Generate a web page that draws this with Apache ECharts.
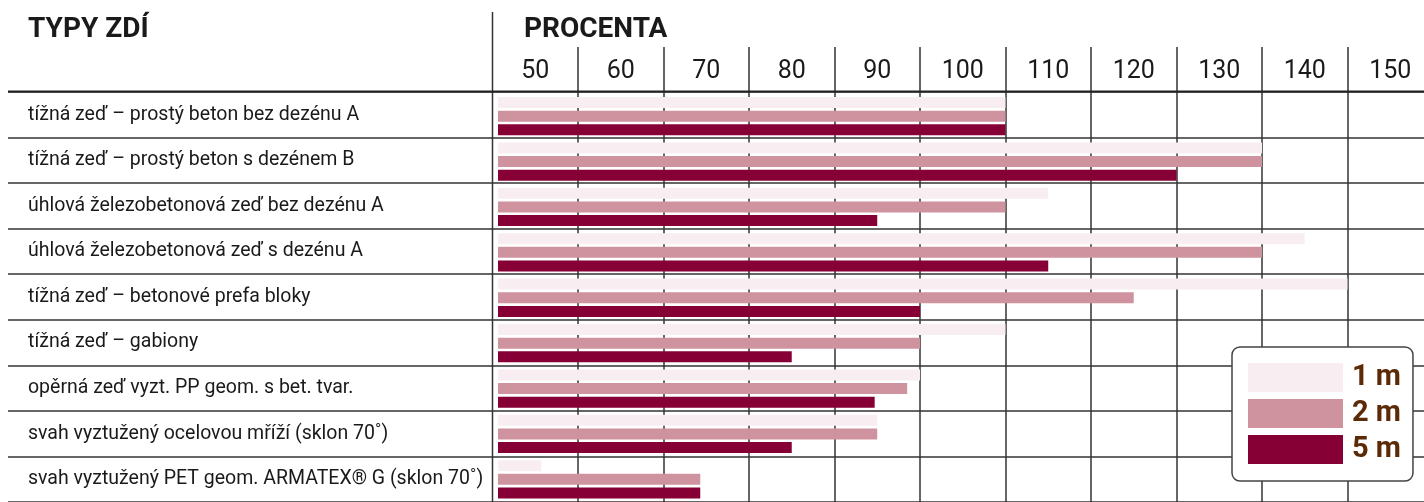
<!DOCTYPE html>
<html>
<head>
<meta charset="utf-8">
<script src="https://cdn.jsdelivr.net/npm/echarts@6/dist/echarts.min.js"></script>
<style>
  html, body { margin: 0; padding: 0; background: #ffffff; }
  #chart { width: 1424px; height: 502px; }
</style>
</head>
<body>
<div id="chart"></div>
<script>
// ---- data ----
const categories = [
  'tížná zeď – prostý beton bez dezénu A',
  'tížná zeď – prostý beton s dezénem B',
  'úhlová železobetonová zeď bez dezénu A',
  'úhlová železobetonová zeď s dezénu A',
  'tížná zeď – betonové prefa bloky',
  'tížná zeď – gabiony',
  'opěrná zeď vyzt. PP geom. s bet. tvar.',
  'svah vyztužený ocelovou mříží (sklon 70˚)',
  'svah vyztužený PET geom. ARMATEX® G (sklon 70˚)'
];
const values1m = [100, 130, 105, 135, 140, 100, 90, 85, 45.7];
const values2m = [100, 130, 100, 130, 115, 90, 88.5, 85, 64.3];
const values5m = [100, 120, 85, 105, 90, 75, 84.7, 75, 64.3];
const seriesNames = ['1 m', '2 m', '5 m'];
const tickLabels = ['50', '60', '70', '80', '90', '100', '110', '120', '130', '140', '150'];
const leftTitle = 'TYPY ZDÍ';
const rightTitle = 'PROCENTA';

// ---- styling ----
const FONT = "Roboto, 'Liberation Sans', sans-serif";
const colors = ['#f8edf1', '#cf939f', '#860035'];
const lineColor = '#333333';
const TOP = 92, ROWH = 46, H = ROWH * categories.length;
const AX_MIN = 40, AX_MAX = 148.95;
const PX_PER = 931.5 / (AX_MAX - AX_MIN);
const BAR_LEFT = 498;
const BAR_MIN = AX_MIN + (BAR_LEFT - 492.5) / PX_PER;

const chart = echarts.init(document.getElementById('chart'), null, { renderer: 'canvas' });

const tickValues = tickLabels.map(t => Number(t));
const labelValues = tickLabels.map(t => Number(t) - 5);

const option = {
  animation: false,
  backgroundColor: '#ffffff',
  grid: [
    { left: 8, top: TOP, width: 484.5, height: H },
    { left: 492.5, top: TOP, width: 931.5, height: H },
    { left: BAR_LEFT, top: TOP + 1.5, width: 1424 - BAR_LEFT, height: H }
  ],
  xAxis: [
    { gridIndex: 0, type: 'value', min: 0, max: 1, show: false },
    {
      gridIndex: 1, type: 'value', position: 'top', min: AX_MIN, max: AX_MAX, interval: 10,
      axisLine: { show: false },
      axisTick: { show: true, length: 45, inside: false, customValues: tickValues.slice(0, -1),
        lineStyle: { color: lineColor, width: 1.5 } },
      splitLine: { show: true, lineStyle: { color: lineColor, width: 1.5 } },
      axisLabel: {
        show: true, customValues: labelValues, margin: 8,
        formatter: v => tickLabels[labelValues.indexOf(v)] || '',
        fontFamily: FONT, fontSize: 25, color: '#1a1a1a'
      }
    },
    { gridIndex: 2, type: 'value', min: BAR_MIN, max: AX_MAX, show: false }
  ],
  yAxis: [
    {
      gridIndex: 0, type: 'category', data: categories, inverse: true,
      axisLine: { show: false }, axisTick: { show: false },
      splitLine: { show: true, lineStyle: { color: lineColor, width: 1.5 } },
      axisLabel: { inside: true, margin: 20, fontFamily: FONT, fontSize: 19.5, color: '#1a1a1a' }
    },
    {
      gridIndex: 1, type: 'category', data: categories, inverse: true,
      axisLine: { show: false }, axisTick: { show: false }, axisLabel: { show: false },
      splitLine: { show: true, lineStyle: { color: lineColor, width: 1.5 } }
    },
    { gridIndex: 2, type: 'category', data: categories, inverse: true, show: false }
  ],
  legend: {
    orient: 'vertical', left: 1232, top: 347,
    data: seriesNames,
    icon: 'rect', itemWidth: 95, itemHeight: 29, itemGap: 7,
    padding: [16, 12, 17, 16],
    backgroundColor: '#ffffff', borderColor: '#444444', borderWidth: 1.5, borderRadius: 8,
    selectedMode: false,
    textStyle: { fontFamily: FONT, fontSize: 29, fontWeight: 'bold', color: '#5b2a06',
      lineHeight: 29, padding: [0, 0, 0, 4] }
  },
  series: [values1m, values2m, values5m].map((vals, i) => ({
    name: seriesNames[i], type: 'bar', xAxisIndex: 2, yAxisIndex: 2,
    data: vals, barWidth: 11, barGap: '24%',
    itemStyle: { color: colors[i] }, silent: true
  })),
  graphic: [
    { type: 'line', shape: { x1: 492.5, y1: 12, x2: 492.5, y2: 502 },
      style: { stroke: lineColor, lineWidth: 1.5 }, z: 50 },
    { type: 'line', shape: { x1: 8, y1: 91.5, x2: 1424, y2: 91.5 },
      style: { stroke: '#222222', lineWidth: 2 }, z: 50 },
    { type: 'text', style: { x: 28, y: 30, text: leftTitle, font: "bold 28px " + FONT,
      fill: '#1a1a1a', verticalAlign: 'middle' }, z: 50 },
    { type: 'text', style: { x: 524, y: 30, text: rightTitle, font: "bold 28px " + FONT,
      fill: '#1a1a1a', verticalAlign: 'middle' }, z: 50 }
  ]
};
chart.setOption(option);
</script>
</body>
</html>
